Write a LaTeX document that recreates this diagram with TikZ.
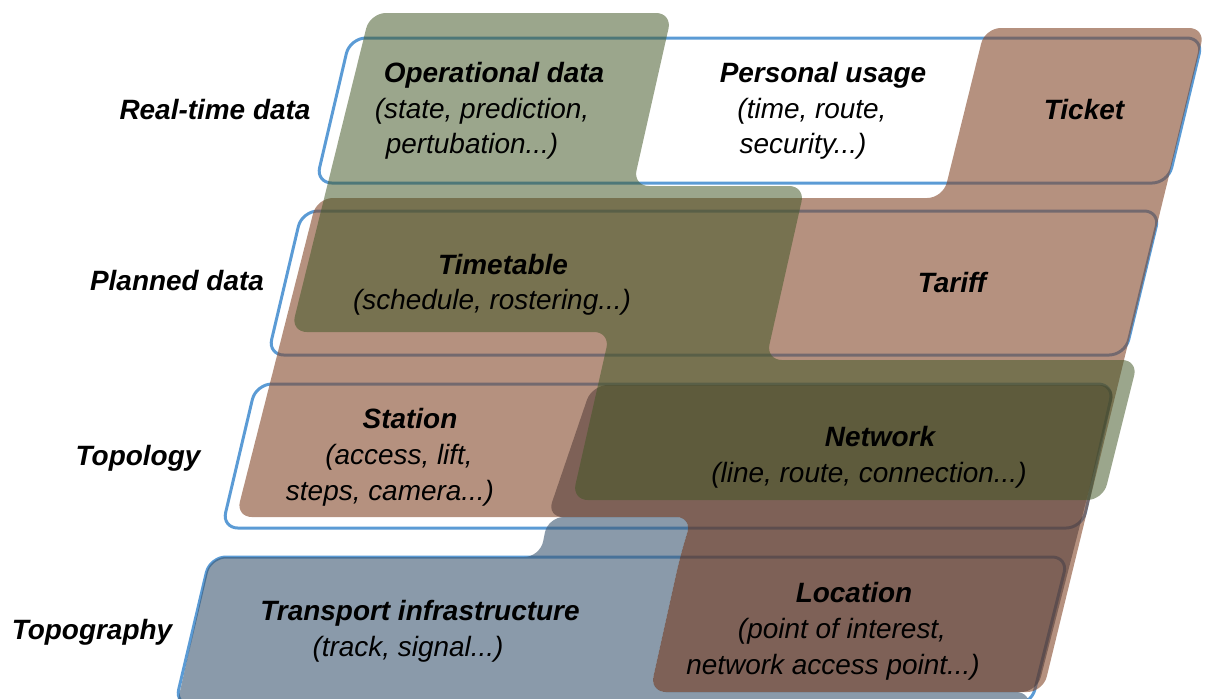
\documentclass[tikz,border=0pt]{standalone}
\usepackage{fontspec}
\setmainfont{Liberation Sans}
\begin{document}
\begin{tikzpicture}[x=0.02cm,y=-0.02cm]
\definecolor{laybl}{RGB}{91,155,213}
\definecolor{brB}{RGB}{132,72,42}
\definecolor{brL}{RGB}{73,51,47}
\definecolor{grG}{RGB}{66,87,38}
\definecolor{blT}{RGB}{60,87,113}
\tikzset{
  layerbox/.style={draw=laybl, line width=1.7pt, rounded corners=9pt},
  blob/.style={rounded corners=9pt},
  ttl/.style={font=\bfseries\itshape\fontsize{15.9}{20}\selectfont, inner sep=0pt, anchor=base},
  sub/.style={font=\itshape\fontsize{15.9}{20}\selectfont, inner sep=0pt, anchor=base},
}
\useasboundingbox (0,0) rectangle (1208,698);
% layer outlines
\draw[layerbox] (350,38) -- (1203,38) -- (1168,183) -- (316,183) -- cycle;
\draw[layerbox] (302,211) -- (1160,211) -- (1125,355) -- (268,355) -- cycle;
\draw[layerbox] (256,384) -- (1114,384) -- (1082,528) -- (222,528) -- cycle;
\draw[layerbox] (210,557) -- (1068,557) -- (1031,705) -- (175,705) -- cycle;
% translucent regions
\fill[brB, fill opacity=0.6, blob] (317,198) -- (943,198) -- (985,28) -- (1205,28) -- (1043,692) -- (650,692) -- (680,557) -- (692,517) -- (236,517) -- cycle;
\fill[brL, fill opacity=0.5, blob] (592,385) -- (1116,385) -- (1037,692) -- (650,692) -- (680,557) -- (692,517) -- (547,517) -- cycle;
\fill[grG, fill opacity=0.53, blob] (370,13) -- (672,13) -- (633,186) -- (805,186) -- (766,360) -- (1138,360) -- (1103,500) -- (572,500) -- (610,332) -- (291,332) -- cycle;
\fill[blT, fill opacity=0.6, blob] (548,517) -- (692,517) -- (680,557) -- (650,692) -- (1032,692) -- (1028,714) -- (175,714) -- (210,557) -- (540,557) -- cycle;
% row labels
\node[ttl] (rt) at (215,119) {Real-time data};
\node[ttl] (pd) at (177,290) {Planned data};
\node[ttl] (tp) at (138,465) {Topology};
\node[ttl] (tg) at (92,639) {Topography};
% real-time
\node[ttl] (op1) at (494,82) {Operational data};
\node[sub] (op2) at (482,118) {(state, prediction,};
\node[sub] (op3) at (472,153) {pertubation...)};
\node[ttl] (pu1) at (823,82) {Personal usage};
\node[sub] (pu2) at (812,118) {(time, route,};
\node[sub] (pu3) at (803,153) {security...)};
\node[ttl] (tk) at (1084,119) {Ticket};
% planned
\node[ttl] (tt1) at (503,274) {Timetable};
\node[sub] (tt2) at (492,309) {(schedule, rostering...)};
\node[ttl] (tf) at (952,292) {Tariff};
% topology
\node[ttl] (st1) at (410,428) {Station};
\node[sub] (st2) at (399,464) {(access, lift,};
\node[sub] (st3) at (390,500) {steps, camera...)};
\node[ttl] (nw1) at (880,446) {Network};
\node[sub] (nw2) at (869,482) {(line, route, connection...)};
% topography
\node[ttl] (ti1) at (420,620) {Transport infrastructure};
\node[sub] (ti2) at (408,656) {(track, signal...)};
\node[ttl] (lc1) at (854,602) {Location};
\node[sub] (lc2) at (842,638) {(point of interest,};
\node[sub] (lc3) at (833,674) {network access point...)};
\end{tikzpicture}
\end{document}
